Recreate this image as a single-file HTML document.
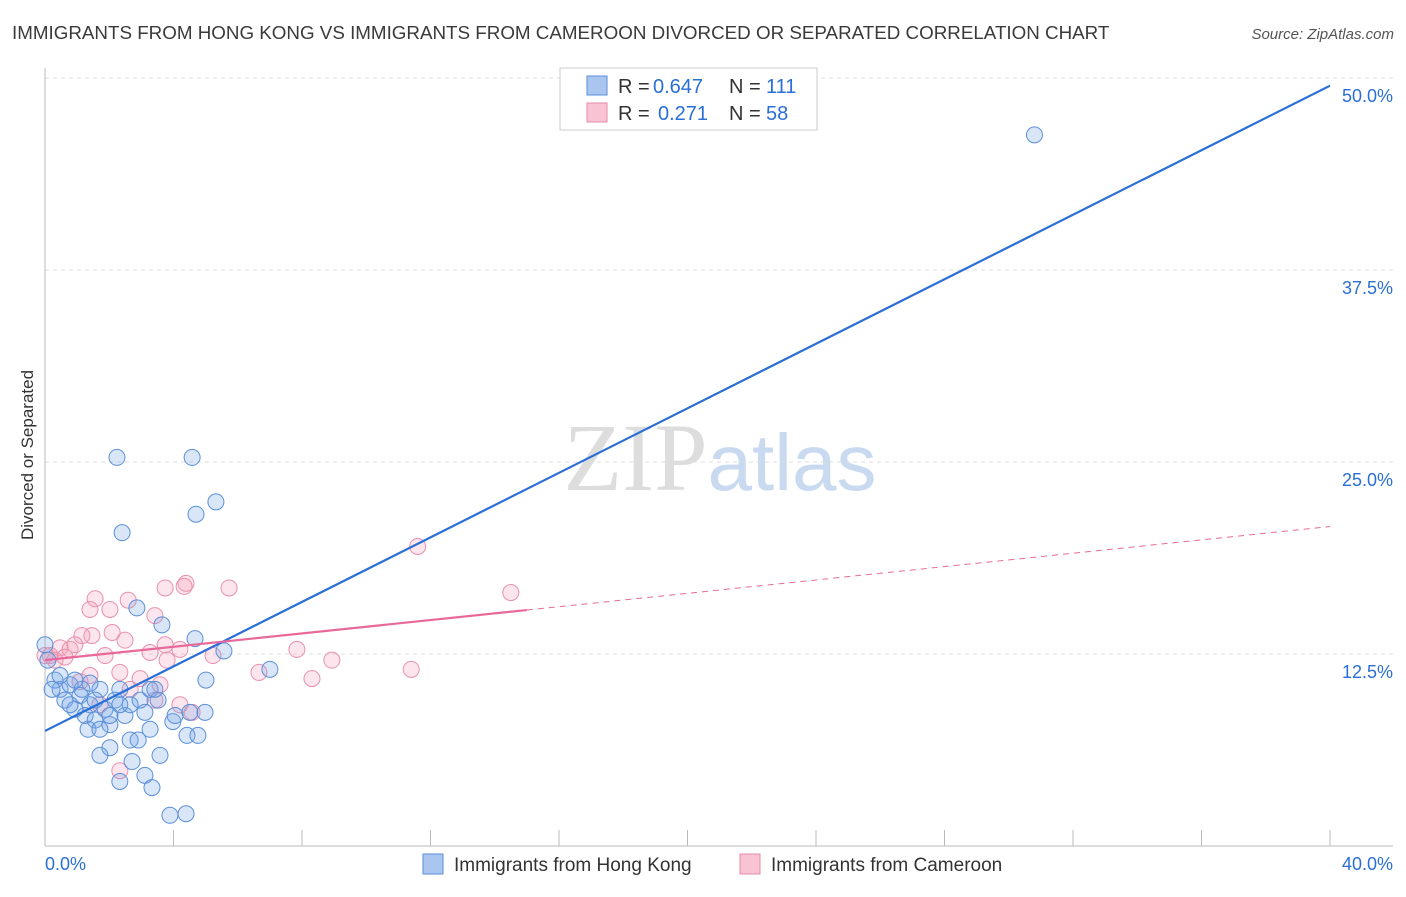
<!DOCTYPE html>
<html><head><meta charset="utf-8"><style>
body{margin:0;background:#fff;font-family:"Liberation Sans",sans-serif;}
</style></head><body>
<svg id="chart" width="1406" height="892" xmlns="http://www.w3.org/2000/svg" font-family="Liberation Sans, sans-serif">
<text x="12" y="39" font-size="18.8" fill="#3a3a3a">IMMIGRANTS FROM HONG KONG VS IMMIGRANTS FROM CAMEROON DIVORCED OR SEPARATED CORRELATION CHART</text>
<text x="1394" y="39" font-size="15" fill="#555" text-anchor="end" font-style="italic">Source: ZipAtlas.com</text>
<text x="720" y="490" font-size="96" text-anchor="middle" fill="#ddd" font-family="Liberation Serif, serif">ZIP<tspan fill="#c9d9f0" font-family="Liberation Sans, sans-serif" font-size="80">atlas</tspan></text>
<g id="grid"></g><g id="axes"></g><g id="points"></g><g id="lines"></g>
<text transform="translate(33,455) rotate(-90)" font-size="17" fill="#333" text-anchor="middle">Divorced or Separated</text>
<g>
<rect x="560" y="68" width="257" height="62" fill="#fff" stroke="#ccc"/>
<rect x="587" y="76" width="20" height="19" fill="#aac6f0" stroke="#5b8fd8"/>
<rect x="587" y="103" width="20" height="19" fill="#f8c4d4" stroke="#e58aa8"/>
<text x="618" y="93" font-size="20" fill="#333">R =</text>
<text x="653" y="93" font-size="20" fill="#2a6fd6">0.647</text>
<text x="729" y="93" font-size="20" fill="#333">N =</text>
<text x="766" y="93" font-size="20" fill="#2a6fd6">111</text>
<text x="618" y="120" font-size="20" fill="#333">R =</text>
<text x="658" y="120" font-size="20" fill="#2a6fd6">0.271</text>
<text x="729" y="120" font-size="20" fill="#333">N =</text>
<text x="766" y="120" font-size="20" fill="#2a6fd6">58</text>
</g>
<g>
<rect x="423" y="854" width="20" height="20" fill="#aac6f0" stroke="#5b8fd8"/>
<text x="454" y="871" font-size="19" fill="#333">Immigrants from Hong Kong</text>
<rect x="740" y="854" width="20" height="20" fill="#f8c4d4" stroke="#e58aa8"/>
<text x="771" y="871" font-size="19" fill="#333">Immigrants from Cameroon</text>
</g>
</svg>
<script>
const yTicks=[12.5,25,37.5,50];
const yTickLabels=["12.5%","25.0%","37.5%","50.0%"];
const xTickLabels=["0.0%","40.0%"];
const blueX=[2.24,4.58,5.32,4.70,2.40,30.8,2.86,3.64,4.67,5.57,7.00,5.01,0,0.09,0.31,0.47,0.78,1.09,0.62,1.40,1.71,0.93,1.25,1.56,1.87,2.18,2.49,2.02,2.65,2.96,3.27,3.52,3.11,3.42,2.33,1.34,1.71,2.65,2.90,2.02,1.71,3.58,2.71,3.11,2.33,3.33,3.89,4.39,3.98,4.42,4.76,4.98,4.05,4.51,3.27,2.33,0.47,0.22,0.78,2.02,1.56,1.15,0.93,1.40];
const blueY=[25.3,25.3,22.4,21.6,20.4,46.3,15.5,14.4,13.5,12.7,11.5,10.8,13.1,12.1,10.8,10.2,10.5,9.8,9.5,9.2,10.2,8.9,8.5,8.2,8.9,9.5,8.5,7.9,9.2,9.5,10.2,9.5,8.7,10.2,10.2,7.6,7.6,6.9,6.9,6.4,5.9,5.9,5.5,4.6,4.2,3.8,2.0,2.1,8.1,7.2,7.2,8.7,8.5,8.7,7.6,9.2,11.1,10.2,9.2,8.5,9.5,10.2,10.8,10.6];
const pinkX=[11.6,14.5,4.39,4.33,3.74,5.73,1.56,2.59,1.40,2.02,3.42,2.09,1.46,1.15,2.49,3.74,0.47,0.78,0.93,0.16,0.31,0.62,1.87,3.27,4.20,5.23,7.84,8.93,8.31,6.66,11.4,3.80,2.33,1.40,1.09,2.96,3.58,2.65,1.71,3.42,2.33,4.58,4.20,0];
const pinkY=[19.5,16.5,17.1,16.9,16.8,16.8,16.1,16.0,15.4,15.4,15.0,13.9,13.7,13.7,13.4,13.1,12.9,12.8,13.1,12.4,12.1,12.3,12.4,12.6,12.8,12.4,12.8,12.1,10.9,11.3,11.5,12.1,11.3,11.1,10.7,10.9,10.5,10.2,9.2,9.5,4.9,8.7,9.2,12.4];
const blueFit=[7.49,49.5];
const pinkFit=[12.1,20.8];
const pinkSolidEnd=15.0;
const NS="http://www.w3.org/2000/svg";
const X=v=>45+v/40*1285, Y=v=>846-v/12.5*192;
function mk(t,a,p){const e=document.createElementNS(NS,t);for(const k in a)e.setAttribute(k,a[k]);p.appendChild(e);return e;}
const grid=document.getElementById('grid'),axes=document.getElementById('axes'),pts=document.getElementById('points'),lines=document.getElementById('lines');
yTicks.forEach((t,i)=>{
 const l=mk('line',{x1:45,x2:1393,y1:Y(t),y2:Y(t),stroke:'#ddd','stroke-dasharray':'4,4'},grid);
 
 
 const tx=mk('text',{x:1393,y:Y(t)+24,'font-size':18,fill:'#2a6fd6','text-anchor':'end'},axes);
 tx.textContent=yTickLabels[i];
 
 
});
let a=mk('line',{x1:45,x2:45,y1:68,y2:846,stroke:'#bbb'},axes);


a=mk('line',{x1:45,x2:1393,y1:846,y2:846,stroke:'#bbb'},axes);


for(let k=1;k<=10;k++){const x=45+k*128.5;const t=mk('line',{x1:x,x2:x,y1:830,y2:846,stroke:'#bbb'},axes);
 
 }
[[0,'start',45],[1,'end',1393]].forEach(([i,anc,x])=>{const t=mk('text',{x:x,y:870,'font-size':18,fill:'#2a6fd6','text-anchor':anc},axes);t.textContent=xTickLabels[i];
 
 });
pinkX.forEach((v,i)=>{const c=mk('circle',{cx:X(v),cy:Y(pinkY[i]),r:8,fill:'rgba(244,160,188,0.28)',stroke:'#e890ae','stroke-width':1},pts);
 
 });
blueX.forEach((v,i)=>{const c=mk('circle',{cx:X(v),cy:Y(blueY[i]),r:8,fill:'rgba(120,165,230,0.28)',stroke:'#5b8fd8','stroke-width':1},pts);
 
 });
let L=mk('line',{x1:X(0),y1:Y(blueFit[0]),x2:X(40),y2:Y(blueFit[1]),stroke:'#2a6fd6','stroke-width':2.2},lines);


const pAt=x=>pinkFit[0]+(pinkFit[1]-pinkFit[0])*x/40;
L=mk('line',{x1:X(0),y1:Y(pinkFit[0]),x2:X(pinkSolidEnd),y2:Y(pAt(pinkSolidEnd)),stroke:'#e8689a','stroke-width':2.2},lines);


L=mk('line',{x1:X(pinkSolidEnd),y1:Y(pAt(pinkSolidEnd)),x2:X(40),y2:Y(pinkFit[1]),stroke:'#e8689a','stroke-width':1,'stroke-dasharray':'6,5'},lines);


</script>
</body></html>
